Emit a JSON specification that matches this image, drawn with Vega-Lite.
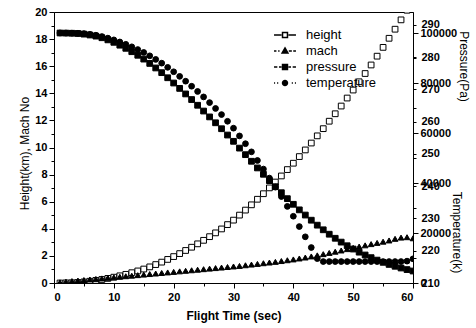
{
  "$schema": "https://vega.github.io/schema/vega-lite/v6.json",
  "autosize": {"type": "none"},
  "width": 359,
  "height": 271,
  "padding": {"left": 54, "top": 12, "right": 63, "bottom": 45},
  "background": "white",
  "config": {
    "view": {"stroke": "black", "strokeWidth": 1},
    "font": "Liberation Sans",
    "axis": {"domainColor": "black", "tickColor": "black", "labelColor": "black", "titleColor": "black", "labelFont": "Liberation Sans", "titleFont": "Liberation Sans", "labelFontSize": 11, "labelFontWeight": "bold", "titleFontSize": 12, "grid": false}
  },
  "data": {"values": [
    {"t":1,"height":0,"mach":0.05,"pressure":100000,"temperature":287.5},
    {"t":2,"height":0.01,"mach":0.1,"pressure":99960,"temperature":287.48},
    {"t":3,"height":0.02,"mach":0.14,"pressure":99900,"temperature":287.45},
    {"t":4,"height":0.04,"mach":0.18,"pressure":99800,"temperature":287.4},
    {"t":5,"height":0.08,"mach":0.22,"pressure":99550,"temperature":287.3},
    {"t":6,"height":0.13,"mach":0.26,"pressure":99200,"temperature":287.1},
    {"t":7,"height":0.19,"mach":0.3,"pressure":98750,"temperature":286.8},
    {"t":8,"height":0.26,"mach":0.34,"pressure":98100,"temperature":286.4},
    {"t":9,"height":0.34,"mach":0.38,"pressure":97250,"temperature":285.9},
    {"t":10,"height":0.43,"mach":0.42,"pressure":96274,"temperature":285.36},
    {"t":11,"height":0.53,"mach":0.46,"pressure":95127,"temperature":284.71},
    {"t":12,"height":0.64,"mach":0.5,"pressure":93869,"temperature":283.99},
    {"t":13,"height":0.76,"mach":0.54,"pressure":92521,"temperature":283.21},
    {"t":14,"height":0.89,"mach":0.58,"pressure":91088,"temperature":282.37},
    {"t":15,"height":1.03,"mach":0.62,"pressure":89556,"temperature":281.46},
    {"t":16,"height":1.19,"mach":0.66,"pressure":87830,"temperature":280.42},
    {"t":17,"height":1.36,"mach":0.7,"pressure":86017,"temperature":279.31},
    {"t":18,"height":1.54,"mach":0.74,"pressure":84142,"temperature":278.14},
    {"t":19,"height":1.74,"mach":0.78,"pressure":82094,"temperature":276.84},
    {"t":20,"height":1.95,"mach":0.82,"pressure":79997,"temperature":275.48},
    {"t":21,"height":2.17,"mach":0.86,"pressure":77839,"temperature":274.05},
    {"t":22,"height":2.4,"mach":0.9,"pressure":75626,"temperature":272.55},
    {"t":23,"height":2.64,"mach":0.94,"pressure":73378,"temperature":270.99},
    {"t":24,"height":2.89,"mach":0.98,"pressure":71095,"temperature":269.37},
    {"t":25,"height":3.15,"mach":1.02,"pressure":68781,"temperature":267.68},
    {"t":26,"height":3.42,"mach":1.06,"pressure":66437,"temperature":265.92},
    {"t":27,"height":3.7,"mach":1.1,"pressure":64083,"temperature":264.1},
    {"t":28,"height":3.99,"mach":1.14,"pressure":61707,"temperature":262.21},
    {"t":29,"height":4.31,"mach":1.18,"pressure":59183,"temperature":260.13},
    {"t":30,"height":4.64,"mach":1.22,"pressure":56672,"temperature":257.99},
    {"t":31,"height":5.01,"mach":1.26,"pressure":53953,"temperature":255.59},
    {"t":32,"height":5.38,"mach":1.31,"pressure":51332,"temperature":253.18},
    {"t":33,"height":5.77,"mach":1.36,"pressure":48692,"temperature":250.65},
    {"t":34,"height":6.18,"mach":1.41,"pressure":46027,"temperature":247.98},
    {"t":35,"height":6.59,"mach":1.46,"pressure":43490,"temperature":245.32},
    {"t":36,"height":7.02,"mach":1.51,"pressure":40944,"temperature":242.52},
    {"t":37,"height":7.45,"mach":1.56,"pressure":38519,"temperature":239.72},
    {"t":38,"height":7.9,"mach":1.62,"pressure":36117,"temperature":236.8},
    {"t":39,"height":8.37,"mach":1.68,"pressure":33738,"temperature":233.75},
    {"t":40,"height":8.84,"mach":1.74,"pressure":31482,"temperature":230.69},
    {"t":41,"height":9.33,"mach":1.81,"pressure":29260,"temperature":227.5},
    {"t":42,"height":9.82,"mach":1.88,"pressure":27177,"temperature":224.32},
    {"t":43,"height":10.33,"mach":1.96,"pressure":25124,"temperature":221.0},
    {"t":44,"height":10.86,"mach":2.04,"pressure":23135,"temperature":217.56},
    {"t":45,"height":11.39,"mach":2.13,"pressure":21282,"temperature":216.65},
    {"t":46,"height":11.94,"mach":2.22,"pressure":19514,"temperature":216.65},
    {"t":47,"height":12.49,"mach":2.31,"pressure":17892,"temperature":216.65},
    {"t":48,"height":13.06,"mach":2.4,"pressure":16354,"temperature":216.65},
    {"t":49,"height":13.65,"mach":2.5,"pressure":14901,"temperature":216.65},
    {"t":50,"height":14.24,"mach":2.6,"pressure":13578,"temperature":216.65},
    {"t":51,"height":14.85,"mach":2.69,"pressure":12333,"temperature":216.65},
    {"t":52,"height":15.46,"mach":2.78,"pressure":11201,"temperature":216.65},
    {"t":53,"height":16.09,"mach":2.87,"pressure":10142,"temperature":216.65},
    {"t":54,"height":16.74,"mach":2.96,"pressure":9154,"temperature":216.65},
    {"t":55,"height":17.39,"mach":3.05,"pressure":8262,"temperature":216.65},
    {"t":56,"height":18.06,"mach":3.14,"pressure":7434,"temperature":216.65},
    {"t":57,"height":18.73,"mach":3.26,"pressure":6688,"temperature":216.65},
    {"t":58,"height":19.42,"mach":3.35,"pressure":5999,"temperature":216.65},
    {"t":59,"height":20.13,"mach":3.38,"pressure":5363,"temperature":216.78},
    {"t":60,"height":20.84,"mach":3.3,"pressure":4795,"temperature":217.49}
  ]},
  "transform": [{"fold": ["height", "mach", "pressure", "temperature"], "as": ["series", "value"]}],
  "encoding": {
    "x": {"field": "t", "type": "quantitative", "title": "Flight Time (sec)",
      "scale": {"domain": [0, 60], "nice": false},
      "axis": {"values": [0,5,10,15,20,25,30,35,40,45,50,55,60], "labelExpr": "datum.value % 10 === 0 ? datum.label : ''",
        "tickSize": {"condition": {"test": "datum.value % 10 === 0", "value": 5}, "value": 3},
        "titleFontWeight": "bold", "titlePadding": 8, "labelPadding": 3}}
  },
  "layer": [
    {
      "transform": [{"filter": "datum.series === 'height'"}],
      "mark": {"type": "point", "shape": "square", "filled": true, "fill": "white", "stroke": "black", "strokeWidth": 1, "size": 33, "opacity": 1, "clip": true},
      "encoding": {
        "y": {"field": "value", "type": "quantitative", "title": "Height(km), Mach No",
          "scale": {"domain": [0, 20], "nice": false},
          "axis": {"orient": "left", "values": [0,1,2,3,4,5,6,7,8,9,10,11,12,13,14,15,16,17,18,19,20],
            "labelExpr": "datum.value % 2 === 0 ? datum.label : ''",
            "tickSize": {"condition": {"test": "datum.value % 2 === 0", "value": 5}, "value": 3},
            "titleFontWeight": "normal", "titleX": -30, "titleY": 141, "titleBaseline": "middle", "titleAlign": "center"}}
      }
    },
    {
      "transform": [{"filter": "datum.series === 'mach'"}],
      "mark": {"type": "point", "shape": "triangle-up", "filled": true, "fill": "black", "stroke": "black", "strokeWidth": 1, "size": 33, "opacity": 1, "clip": true},
      "encoding": {
        "y": {"field": "value", "type": "quantitative", "scale": {"domain": [0, 20], "nice": false}, "axis": null}
      }
    },
    {
      "transform": [{"filter": "datum.series === 'pressure'"}],
      "mark": {"type": "point", "shape": "square", "filled": true, "fill": "black", "stroke": "black", "strokeWidth": 1, "size": 33, "opacity": 1, "clip": true},
      "encoding": {
        "y": {"field": "value", "type": "quantitative", "title": "Pressure(Pa)",
          "scale": {"domain": [0, 108400], "nice": false, "zero": false},
          "axis": {"orient": "right", "values": [0,10000,20000,30000,40000,50000,60000,70000,80000,90000,100000],
            "format": "d", "labelExpr": "datum.value % 20000 === 0 ? datum.label : ''",
            "tickSize": {"condition": {"test": "datum.value % 20000 === 0", "value": 5}, "value": 3},
            "titleFontWeight": "normal", "titleAngle": 90, "titleX": 50, "titleY": 54, "titleBaseline": "middle", "titleAlign": "center"}}
      }
    },
    {
      "transform": [{"filter": "datum.series === 'temperature'"}],
      "mark": {"type": "point", "shape": "circle", "filled": true, "fill": "black", "stroke": "black", "strokeWidth": 1, "size": 33, "opacity": 1, "clip": true},
      "encoding": {
        "y": {"field": "value", "type": "quantitative", "title": "Temperature(k)",
          "scale": {"domain": [210, 294], "nice": false, "zero": false},
          "axis": {"orient": "right", "values": [210,220,230,240,250,260,270,280,290], "domain": false,
            "tickSize": 3, "labelPadding": 5,
            "titleFontWeight": "normal", "titleAngle": 90, "titleX": 43, "titleY": 220, "titleBaseline": "middle", "titleAlign": "center"}}
      }
    },
    {
      "transform": [{"filter": "datum.t < 0"}],
      "mark": {"type": "point", "filled": true, "stroke": "black", "strokeWidth": 1, "opacity": 1, "clip": true},
      "encoding": {
        "y": {"field": "value", "type": "quantitative", "scale": {"domain": [0, 1]}, "axis": null},
        "shape": {"field": "series", "type": "nominal",
          "scale": {"domain": ["height", "mach", "pressure", "temperature"],
            "range": ["M-1.33,0H-0.42M0.42,0H1.33M-0.3,-0.3H0.3V0.3H-0.3Z",
                      "M-1.33,0H-1.04M-0.83,0H-0.66M0.46,0H0.83M1.0,0H1.33M0,-0.37L0.35,0.24H-0.35Z",
                      "M-1.33,0H-0.93M-0.73,0H-0.42M0.42,0H0.73M0.93,0H1.33M-0.3,-0.3H0.3V0.3H-0.3Z",
                      "M-1.33,0H-1.2M-0.96,0H-0.82M0.82,0H0.96M1.2,0H1.33M-0.3,0A0.3,0.3,0,1,0,0.3,0A0.3,0.3,0,1,0,-0.3,0Z"]},
          "legend": {"title": null, "orient": "none", "legendX": 222, "legendY": 14, "labelFontSize": 13, "labelFont": "Liberation Sans", "labelColor": "black", "symbolSize": 272, "rowPadding": 0, "labelOffset": 12,
            "encode": {"symbols": {"update": {"stroke": {"value": "black"}, "strokeWidth": {"value": 1}, "size": {"value": 272}}}}}},
        "fill": {"field": "series", "type": "nominal",
          "scale": {"domain": ["height", "mach", "pressure", "temperature"], "range": ["white", "black", "black", "black"]}}
      }
    }
  ],
  "resolve": {"scale": {"y": "independent"}}
}
